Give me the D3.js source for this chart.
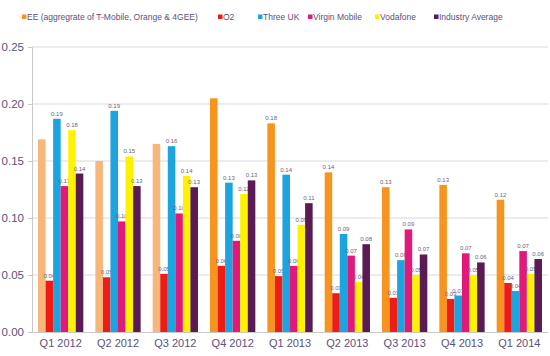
<!DOCTYPE html>
<html><head><meta charset="utf-8">
<script src="https://cdn.jsdelivr.net/npm/d3@7"></script>
<style>body{margin:0;background:#fff}svg{display:block}</style>
</head><body>
<svg id="c" width="550" height="356"></svg>
<script>
const quarters = ["Q1 2012","Q2 2012","Q3 2012","Q4 2012","Q1 2013","Q2 2013","Q3 2013","Q4 2013","Q1 2014"];
const seriesNames = ["EE (aggregrate of T-Mobile, Orange & 4GEE)","O2","Three UK","Virgin Mobile","Vodafone","Industry Average"];
const ee       = [0.169,0.150,0.165,0.205,0.183,0.140,0.127,0.129,0.116];
const o2       = [0.045,0.048,0.051,0.058,0.049,0.034,0.030,0.029,0.043];
const threeUK  = [0.187,0.194,0.163,0.131,0.138,0.086,0.063,0.032,0.036];
const virgin   = [0.128,0.097,0.104,0.080,0.058,0.067,0.090,0.069,0.071];
const vodafone = [0.177,0.154,0.137,0.121,0.094,0.044,0.050,0.050,0.051];
const industry = [0.139,0.128,0.127,0.133,0.113,0.077,0.068,0.061,0.064];
const eeLabelShown = [false,false,false,false,true,true,true,true,true];
const yTicks = [0,0.05,0.10,0.15,0.20,0.25];

const values = [ee,o2,threeUK,virgin,vodafone,industry];
const colors = ["#F7941D","#EE1C16","#1BA4E0","#E0197A","#FFF200","#5A1B55"];
const eeLight = "#F8B77A";
const textCol = "#5d4f7c";

const svg = d3.select("#c");
const L = 32, R = 548, T = 47, B = 332;
const x0 = d3.scaleBand().domain(quarters).range([L,R]).paddingInner(0.21).paddingOuter(0.105);
const x1 = d3.scaleBand().domain(d3.range(6)).range([0,x0.bandwidth()]);
const y = d3.scaleLinear().domain([0,0.25]).range([B,T]);

// grid
svg.append("g").selectAll("line").data(yTicks.slice(1)).join("line")
  .attr("x1",L).attr("x2",R).attr("y1",d=>y(d)).attr("y2",d=>y(d))
  .attr("stroke","#d9d9d9").attr("stroke-width",1.2);

// y axis
const ya = svg.append("g").attr("transform",`translate(${L},0)`)
  .call(d3.axisLeft(y).tickValues(yTicks).tickFormat(d3.format(".2f")).tickSize(4).tickPadding(4));
ya.select(".domain").attr("stroke","#c8c8c8");
ya.selectAll(".tick line").attr("stroke","#c8c8c8");
ya.selectAll("text").attr("fill",textCol).style("font-family","Liberation Sans, Arial, sans-serif").style("font-size","11.5px");

// x axis
const xa = svg.append("g").attr("transform",`translate(0,${B})`)
  .call(d3.axisBottom(x0).tickSize(0).tickPadding(7));
xa.select(".domain").attr("stroke","#c8c8c8");
xa.selectAll("text").attr("fill",textCol).style("font-family","Liberation Sans, Arial, sans-serif").style("font-size","11px");

// bars
const groups = svg.append("g").selectAll("g").data(quarters).join("g")
  .attr("transform",d=>`translate(${x0(d)},0)`);
const cells = groups.selectAll("g").data((q,qi)=>values.map((v,si)=>({qi,si,v:v[qi]}))).join("g");
cells.append("rect")
  .attr("x",d=>x1(d.si)).attr("width",x1.bandwidth())
  .attr("y",d=>y(d.v)).attr("height",d=>B-y(d.v))
  .attr("fill",d=>d.si===0 && d.qi<3 ? eeLight : colors[d.si]);
cells.filter(d=>!(d.si===0 && !eeLabelShown[d.qi])).append("text")
  .attr("x",d=>x1(d.si)+x1.bandwidth()/2).attr("y",d=>y(d.v)-3)
  .attr("text-anchor","middle").attr("fill","#6a5f80")
  .style("font-family","Liberation Sans, Arial, sans-serif").style("font-size","6px")
  .text(d=>d3.format(".2f")(d.v));

// legend
const legX = [22,218,258,308,375,434];
const leg = svg.append("g").selectAll("g").data(seriesNames).join("g")
  .attr("transform",(d,i)=>`translate(${legX[i]},17)`);
leg.append("rect").attr("x",0).attr("y",-2.5).attr("width",4.5).attr("height",4.5)
  .attr("fill",(d,i)=>colors[i]);
leg.append("text").attr("x",5).attr("y",3).attr("fill",textCol)
  .style("font-family","Liberation Sans, Arial, sans-serif").style("font-size","8.5px").text(d=>d);
</script>
</body></html>
